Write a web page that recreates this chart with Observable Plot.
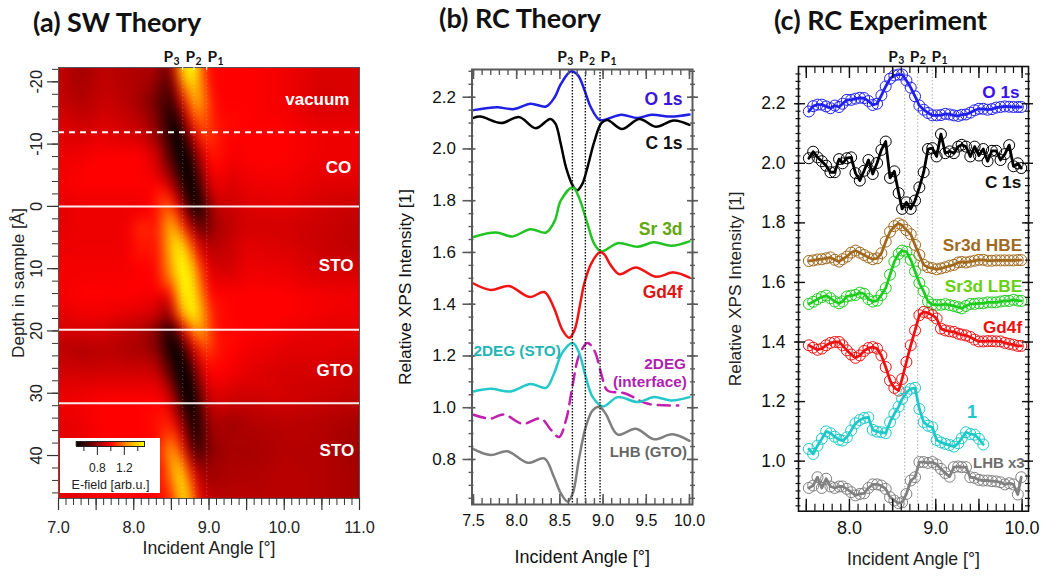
<!DOCTYPE html>
<html><head><meta charset="utf-8">
<script src="https://cdn.jsdelivr.net/npm/d3@7"></script>
<script src="https://cdn.jsdelivr.net/npm/@observablehq/plot@0.6"></script>
<style>
html,body{margin:0;padding:0;background:#fff;width:1042px;height:576px;overflow:hidden}
.t{position:absolute;font-family:Lato,"Open Sans",sans-serif;font-weight:700;font-size:27px;color:#111;white-space:nowrap;line-height:32px}
.p{position:absolute}
.p svg{display:block;overflow:visible;background:transparent}
</style></head><body>
<div class="t" style="left:33px;top:6px">(a) SW Theory</div>
<div class="t" style="left:439px;top:2px">(b) RC Theory</div>
<div class="t" style="left:774px;top:4px">(c) RC Experiment</div>
<div class="p" id="a" style="left:0;top:40px"></div>
<div class="p" id="cb" style="left:60px;top:438px"></div>
<div class="p" id="b" style="left:385px;top:40px"></div>
<div class="p" id="c" style="left:715px;top:40px"></div>
<script>
// ---------- panel (a): E-field, one row per depth
const fieldDepths = [-22.3,-17,-12,-8,-4,0,3,6,10,14,17,20,23,27,31,35,39,43,47];
const fieldAngles = [
 [7,7.3,7.6,7.9,8.1,8.3,8.45,8.55,8.62,8.72,8.85,8.95,9.2,9.5,10,10.5,11],
 [7,7.3,7.6,7.9,8.1,8.3,8.49,8.62,8.75,8.84,8.95,9.1,9.5,10,10.5,11],
 [7,7.3,7.6,7.9,8.1,8.3,8.45,8.58,8.7,8.8,8.9,9,9.15,9.5,10,10.5,11],
 [7,7.3,7.6,7.9,8.1,8.3,8.5,8.67,8.8,8.95,9.1,9.3,9.5,10,10.5,11],
 [7,7.3,7.6,7.9,8.1,8.3,8.5,8.62,8.75,8.88,9,9.15,9.3,9.5,10,10.5,11],
 [7,7.3,7.6,7.9,8.1,8.3,8.45,8.6,8.75,8.85,8.97,9.1,9.3,9.5,10,10.5,11],
 [7,7.3,7.6,7.9,8.1,8.3,8.5,8.62,8.75,8.88,9,9.15,9.3,9.5,10,10.5,11],
 [7,7.3,7.6,7.9,8.1,8.3,8.45,8.56,8.7,8.85,9,9.2,9.5,10,10.5,11],
 [7,7.3,7.6,7.9,8.1,8.3,8.5,8.66,8.8,8.95,9.1,9.3,9.5,10,10.5,11],
 [7,7.3,7.6,7.9,8.1,8.3,8.5,8.6,8.72,8.85,9,9.3,9.5,10,10.5,11],
 [7,7.3,7.6,7.9,8.1,8.3,8.48,8.6,8.77,8.9,9.03,9.3,9.5,10,10.5,11],
 [7,7.3,7.6,7.9,8.1,8.3,8.49,8.62,8.75,8.85,8.97,9.1,9.5,10,10.5,11],
 [7,7.3,7.6,7.9,8.1,8.3,8.48,8.57,8.72,8.85,8.97,9.1,9.5,10,10.5,11],
 [7,7.3,7.6,7.9,8.1,8.3,8.5,8.68,8.82,8.97,9.15,9.5,10,10.5,11],
 [7,7.3,7.6,7.9,8.1,8.3,8.5,8.62,8.76,8.88,9,9.2,9.5,10,10.5,11],
 [7,7.3,7.6,7.9,8.1,8.3,8.48,8.65,8.8,8.92,9.05,9.3,9.5,10,10.5,11],
 [7,7.3,7.6,7.9,8.1,8.3,8.5,8.65,8.78,8.88,9,9.3,9.5,10,10.5,11],
 [7,7.3,7.6,7.9,8.1,8.3,8.45,8.6,8.74,8.88,9,9.3,9.5,10,10.5,11],
 [7,7.3,7.6,7.9,8.1,8.3,8.5,8.69,8.83,8.95,9.3,9.5,10,10.5,11]
];
const fieldValues = [
 [.9,.82,.88,.85,.85,.85,.7,.95,1.35,1.7,1.4,1.02,1,1,.98,.93,.93],
 [.9,.85,.9,.87,.82,.73,.58,.88,1.22,1.38,1.15,1,1,.98,.92,.93],
 [.95,.92,.95,.92,.9,.8,.6,.42,.75,.95,1.14,1.1,1.02,1,1,.97,.97],
 [.97,.98,1,1,1,.93,.65,.4,.68,1,1.04,.98,1,1,.97,.97],
 [.98,1,1,1,1,1,.85,.62,.4,.68,.95,.98,.93,.97,.98,.95,.95],
 [.95,.97,.97,.97,.97,1.03,1.18,.95,.58,.48,.72,.9,.9,.94,.95,.92,.9],
 [.95,.97,.97,.97,1.08,1.02,1.36,1.12,.85,.66,.76,.86,.88,.92,.92,.9,.88],
 [.96,.97,.97,.97,1.05,1.02,1.25,1.5,1.28,.92,.85,.88,.95,.93,.9,.88],
 [.98,.98,.98,.98,1,1,1.28,1.6,1.32,.97,.92,.92,.97,.96,.92,.92],
 [.98,1,1,1,1,.98,1,1.38,1.6,1.32,1,1,1,1,.98,.97],
 [.95,.98,.98,.96,.95,.92,.78,1.22,1.55,1.32,1.04,1,1,1,.98,.97],
 [.92,.93,.92,.88,.85,.76,.5,.82,1.12,1.32,1.18,1.02,1,.98,.95,.95],
 [.88,.85,.87,.85,.84,.78,.55,.42,.76,1,1.14,1.03,.98,.95,.95,.93],
 [.92,.92,.92,.92,.92,.92,.68,.38,.72,1,1,.95,.92,.92,.9],
 [.97,.98,1,1,1,1,.92,.62,.38,.7,.92,.92,.9,.92,.9,.88],
 [.95,.97,1,1,1,1.02,1.08,.82,.46,.7,.85,.82,.85,.87,.86,.83],
 [.95,.95,1,1,1,1.02,1.3,1.05,.66,.62,.78,.84,.83,.86,.86,.82],
 [.95,.95,1,1,1,1,1.12,1.48,1.12,.82,.82,.85,.85,.87,.86,.83],
 [.95,.95,1,1,1,1,1.05,1.52,1.05,.9,.87,.87,.87,.86,.83]
];
const fieldPoints = fieldDepths.flatMap((depth,r)=>fieldAngles[r].map((angle,i)=>({angle,depth,value:fieldValues[r][i]})));
const colorDomain = [0.49,0.75,1.0,1.25,1.5];
const colorRange = ["#000000","#7a0000","#ff0000","#ff9500","#ffff00"];
const layerSolid = [0,19.8,31.6];
const layerDashed = [-11.9];
const peakAngles = [8.65,8.8,8.97];
const layerNames = ["vacuum","CO","STO","GTO","STO"];
const layerNameAngle = [10.44,10.72,10.69,10.67,10.7];
const layerNameDepth = [-17.2,-6.3,9.5,26.3,39.2];
const pNames = ["P","P","P"], pSubs = ["3","2","1"];
const pStartA = [8.395,8.688,8.98], pStartB = [8.47,8.72,8.97], pStartC = [8.45,8.70,8.95];

// ---------- panel (b): theory curves
const bO1s = [[7.5,2.15],[7.7,2.159],[7.78,2.161],[7.97,2.154],[8.16,2.175],[8.34,2.164],[8.44,2.2],[8.51,2.25],[8.63,2.3],[8.71,2.284],[8.78,2.232],[8.86,2.16],[8.96,2.112],[9.05,2.116],[9.21,2.132],[9.4,2.12],[9.56,2.132],[9.79,2.125],[10,2.133]];
const bC1s = [[7.5,2.12],[7.58,2.125],[7.82,2.1],[8.03,2.123],[8.22,2.08],[8.39,2.116],[8.45,2.097],[8.51,2.02],[8.57,1.93],[8.65,1.858],[8.7,1.84],[8.76,1.865],[8.82,1.93],[8.9,2.03],[8.98,2.1],[9.05,2.112],[9.22,2.077],[9.42,2.116],[9.61,2.086],[9.82,2.11],[10,2.093]];
const bSr3d = [[7.5,1.66],[7.76,1.677],[7.95,1.662],[8.16,1.69],[8.34,1.677],[8.44,1.722],[8.51,1.8],[8.65,1.852],[8.72,1.813],[8.82,1.71],[8.9,1.632],[8.98,1.604],[9.17,1.636],[9.4,1.622],[9.59,1.639],[9.79,1.626],[10,1.643]];
const bGd4f = [[7.5,1.48],[7.7,1.455],[7.91,1.47],[8.15,1.428],[8.32,1.447],[8.43,1.387],[8.53,1.3],[8.61,1.27],[8.67,1.3],[8.74,1.41],[8.78,1.477],[8.86,1.555],[8.96,1.6],[9.01,1.594],[9.09,1.55],[9.19,1.516],[9.38,1.542],[9.61,1.506],[9.82,1.523],[10,1.503]];
const b2degSto = [[7.5,1.063],[7.7,1.073],[7.93,1.063],[8.16,1.092],[8.34,1.077],[8.43,1.13],[8.53,1.214],[8.65,1.25],[8.72,1.214],[8.8,1.118],[8.88,1.041],[9,1.005],[9.17,1.041],[9.4,1.022],[9.59,1.041],[9.79,1.028],[10,1.041]];
const b2degInt = [[7.5,.973],[7.7,.958],[7.85,.974],[8.07,.938],[8.28,.958],[8.4,.913],[8.49,.887],[8.57,.951],[8.65,1.092],[8.72,1.2],[8.82,1.25],[8.9,1.22],[8.98,1.13],[9.05,1.067],[9.25,1.056],[9.52,1.015],[9.87,1.009]];
const bLhb = [[7.5,.84],[7.7,.817],[7.89,.832],[8.13,.787],[8.32,.804],[8.43,.733],[8.51,.67],[8.59,.637],[8.65,.67],[8.72,.8],[8.8,.926],[8.88,.99],[8.96,1.003],[9.03,.977],[9.17,.896],[9.38,.919],[9.59,.878],[9.8,.897],[10,.872]];
const bLabels = ["O 1s","C 1s","Sr 3d","Gd4f"];
const bLabelY = [2.19,2.02,1.69,1.445];
const bLabelColor = ["#3a14d8","#111111","#62a80e","#e01414"];

// ---------- panel (c): experiment
const cAngle = [7.53,7.58,7.63,7.68,7.73,7.78,7.83,7.88,7.92,7.97,8.02,8.07,8.12,8.17,8.22,8.27,8.32,8.37,8.42,8.47,8.52,8.57,8.61,8.66,8.71,8.76,8.81,8.86,8.91,8.96,9.01,9.06,9.11,9.16,9.21,9.26,9.30,9.35,9.40,9.45,9.50,9.55,9.60,9.65,9.70,9.75,9.80,9.85,9.90,9.95,9.99];
const cO1s = [2.174,2.192,2.197,2.197,2.191,2.185,2.194,2.189,2.2,2.213,2.213,2.217,2.22,2.219,2.209,2.196,2.2,2.228,2.258,2.284,2.295,2.298,2.298,2.278,2.254,2.225,2.194,2.18,2.169,2.161,2.161,2.162,2.166,2.164,2.161,2.159,2.163,2.164,2.17,2.178,2.183,2.183,2.18,2.182,2.187,2.189,2.191,2.19,2.189,2.189,2.189];
const cC1s = [2.017,2.039,2.02,2.007,1.992,1.97,1.97,2.014,2,2.017,2.02,1.967,1.942,1.975,2.011,1.964,2.001,2.045,2.073,1.951,1.973,1.9,1.847,1.869,1.847,1.875,1.919,1.97,2.048,2.051,2.023,2.098,2.034,2.04,2.034,2.056,2.062,2.056,2.023,2.056,2.026,2.048,2.007,2.042,2.042,2.011,2.031,2.061,1.99,2,1.984];
const cHbe = [1.672,1.674,1.677,1.678,1.681,1.684,1.676,1.67,1.678,1.687,1.7,1.707,1.7,1.692,1.684,1.678,1.681,1.698,1.737,1.77,1.789,1.798,1.792,1.776,1.762,1.726,1.692,1.659,1.651,1.648,1.644,1.647,1.651,1.656,1.659,1.667,1.669,1.667,1.67,1.673,1.676,1.676,1.673,1.673,1.674,1.674,1.674,1.674,1.674,1.675,1.675];
const cLbe = [1.528,1.535,1.544,1.551,1.556,1.547,1.536,1.53,1.536,1.553,1.556,1.558,1.566,1.562,1.544,1.536,1.539,1.558,1.581,1.626,1.67,1.696,1.707,1.703,1.676,1.637,1.598,1.57,1.536,1.526,1.525,1.525,1.527,1.524,1.521,1.517,1.513,1.521,1.528,1.528,1.53,1.53,1.533,1.533,1.533,1.536,1.538,1.538,1.542,1.539,1.538];
const cGd4f = [1.389,1.381,1.374,1.378,1.389,1.397,1.4,1.4,1.389,1.372,1.358,1.347,1.355,1.37,1.38,1.383,1.378,1.355,1.316,1.271,1.246,1.237,1.276,1.333,1.389,1.439,1.49,1.501,1.498,1.49,1.479,1.445,1.439,1.436,1.434,1.428,1.425,1.422,1.417,1.408,1.402,1.402,1.403,1.403,1.402,1.402,1.397,1.394,1.391,1.387,1.387];
const cOne = [1.041,1.024,1.052,1.075,1.1,1.094,1.082,1.072,1.069,1.08,1.103,1.127,1.138,1.145,1.147,1.105,1.099,1.097,1.094,1.131,1.159,1.183,1.209,1.231,1.243,1.246,1.175,1.131,1.119,1.114,1.071,1.063,1.058,1.054,1.049,1.06,1.077,1.097,1.091,1.089,1.075,1.056];
const cLhb = [.91,.918,.946,.91,.941,.915,.91,.915,.915,.907,.896,.885,.89,.892,.91,.922,.922,.918,.907,.879,.868,.859,.862,.89,.935,.946,.997,.997,.994,.997,.989,.974,.96,.948,.98,.982,.98,.98,.946,.944,.937,.935,.935,.933,.932,.929,.922,.926,.922,.888,.946];
const cLabels = ["O 1s","C 1s","Sr3d HBE","Sr3d LBE","Gd4f"];
const cLabelX = [9.97,9.99,10,10,10];
const cLabelY = [2.237,1.935,1.724,1.586,1.45];
const cLabelColor = ["#3a10f0","#111111","#a0691e","#66d011","#ee1111"];

// ---------- ticks
const majorA = [7,7.5,8,8.5,9,9.5,10,10.5,11];
const minorA = d3.range(7,11.001,0.1);
const labelA = [7,8,9,10,11];
const depthLabels = [-20,-10,0,10,20,30,40];
const depthMinor = d3.range(-22,47,2);
const majorX = [7.5,8,8.5,9,9.5,10];
const minorX = d3.range(7.5,10.001,0.1);
const labelB = [7.5,8,8.5,9,9.5,10];
const labelC = [8,9,10];
const majorYB = [.8,1,1.2,1.4,1.6,1.8,2,2.2];
const minorYB = d3.range(.65,2.301,.05);
const majorYC = [1,1.2,1.4,1.6,1.8,2,2.2];
const minorYC = d3.range(.85,2.32,.025);
const SANS = '"Liberation Sans",Arial,sans-serif';
const fx = d3.format(".1f");
const colorScale = {type:"linear",domain:colorDomain,range:colorRange,interpolate:"rgb",clamp:true};

// tick strokes drawn as short rules on the panel's own scales (W, H: frame size in px)
const tickBottom = (H,ticks,size,stroke,sw,outward=false)=>Plot.ruleX(ticks,{insetTop:H-size,dy:outward?size:0,stroke,strokeWidth:sw});
const tickTop = (H,ticks,size,stroke,sw)=>Plot.ruleX(ticks,{insetBottom:H-size,stroke,strokeWidth:sw});
const tickLeft = (W,ticks,size,shift,stroke,sw)=>Plot.ruleY(ticks,{insetRight:W-size,dx:shift-size,stroke,strokeWidth:sw});
const tickRight = (W,ticks,size,shift,stroke,sw)=>Plot.ruleY(ticks,{insetLeft:W-size,dx:size-shift,stroke,strokeWidth:sw});

function pLabels(starts,dyTop){
  return [
    Plot.text(pNames,{x:(d,i)=>starts[i],frameAnchor:"top",dy:dyTop,textAnchor:"start",lineAnchor:"middle",text:d=>d,fontFamily:"Lato",fontWeight:700,fontSize:15.5,fill:"#111"}),
    Plot.text(pSubs,{x:(d,i)=>starts[i],frameAnchor:"top",dy:dyTop+4,dx:10,textAnchor:"start",lineAnchor:"middle",text:d=>d,fontFamily:"Lato",fontWeight:700,fontSize:10.5,fill:"#111"})
  ];
}

// ---------- panel (a)
const WA=301,HA=431;
document.getElementById("a").append(Plot.plot({
  width:375,height:536,marginLeft:58,marginRight:16,marginTop:27,marginBottom:78,
  style:{fontFamily:SANS,background:"transparent",overflow:"visible"},
  x:{domain:[7,11],label:null},y:{domain:[46.9,-22.3],label:null},color:colorScale,
  marks:[
    Plot.raster(fieldPoints,{x:"angle",y:"depth",fill:"value",interpolate:"barycentric",pixelSize:1,blur:5}),
    Plot.ruleX(peakAngles,{stroke:"#fff",strokeOpacity:.28,strokeWidth:1,strokeDasharray:"1,3"}),
    Plot.ruleY(layerSolid,{stroke:"#fff",strokeWidth:2,strokeOpacity:.92}),
    Plot.ruleY(layerDashed,{stroke:"#fff",strokeWidth:2,strokeDasharray:"6,5"}),
    Plot.text(layerNames,{x:(d,i)=>layerNameAngle[i],y:(d,i)=>layerNameDepth[i],text:d=>d,fill:"#fff",fontWeight:700,fontSize:17,fontFamily:SANS}),
    Plot.frame({stroke:"#555",strokeWidth:1}),
    tickBottom(HA,minorA,7,"#333",1,true),
    tickBottom(HA,majorA,12,"#333",1.2,true),
    Plot.axisX({anchor:"bottom",ticks:labelA,tickSize:0,tickPadding:23,tickFormat:fx,fontSize:16.3,fill:"#222",label:null}),
    tickLeft(WA,depthMinor,6,0,"#333",1),
    tickLeft(WA,depthLabels,11,0,"#333",1.2),
    Plot.axisY({anchor:"left",ticks:depthLabels,tickSize:0,tickPadding:17,tickRotate:-90,fontSize:16.3,fill:"#222",label:null,tickFormat:d=>String(d).replace("−","-")}),
    tickTop(HA,peakAngles,3,"#fff",1),
    ...pLabels(pStartA,-10),
    Plot.text(["Depth in sample [Å]"],{frameAnchor:"left",dx:-40,rotate:-90,textAnchor:"middle",fontSize:17.2,fill:"#222",text:d=>d}),
    Plot.text(["Incident Angle [°]"],{frameAnchor:"bottom",dy:55,fontSize:17.7,fill:"#222",text:d=>d})
  ]
}));

// colour bar inset
const barValues = d3.range(0.49,1.5,0.01);
document.getElementById("cb").append(Plot.plot({
  width:100,height:55,marginLeft:16,marginRight:16,marginTop:3,marginBottom:47,
  style:{fontFamily:SANS,background:"#fff",overflow:"visible"},
  x:{domain:[0.49,1.5],label:null},y:{axis:null},color:colorScale,
  marks:[
    Plot.ruleX(barValues,{x:d=>d,stroke:d=>d,strokeWidth:1.5}),
    Plot.frame({stroke:"#222"}),
    tickBottom(5,[.6,1,1.4],5,"#222",1,true),
    tickBottom(5,[.8,1.2],9,"#222",1,true),
    Plot.axisX({anchor:"bottom",ticks:[.8,1.2],tickSize:0,tickPadding:17,tickFormat:fx,fontSize:12,fill:"#222",label:null}),
    Plot.text(["E-field [arb.u.]"],{frameAnchor:"bottom",dy:42,fontSize:12.5,fill:"#222",text:d=>d})
  ]
}));

// ---------- panel (b)
function curveB(pts,stroke,extra={}){
  return Plot.line(pts,{x:d=>d[0],y:d=>d[1],stroke,strokeWidth:2.5,curve:"catmull-rom",...extra});
}
const GB = "#5a5a5a", WB=220.5, HB=435;
document.getElementById("b").append(Plot.plot({
  width:325,height:536,marginLeft:86.5,marginRight:18,marginTop:29,marginBottom:72,
  style:{fontFamily:SANS,background:"transparent",overflow:"visible"},
  x:{domain:[7.483,10.035],label:null},y:{domain:[.626,2.307],label:null},
  marks:[
    curveB(bO1s,"#1f1fe6"),curveB(bC1s,"#000"),curveB(bSr3d,"#22c322"),curveB(bGd4f,"#f01414"),
    curveB(b2degInt,"#c01fb0",{strokeDasharray:"12,7"}),curveB(b2degSto,"#25c8c8"),curveB(bLhb,"#7f7f7f"),
    Plot.ruleX(peakAngles.map(d=>d-.005),{stroke:"#111",strokeWidth:1.4,strokeDasharray:"1.5,1.5"}),
    Plot.frame({stroke:GB,strokeWidth:2}),
    tickBottom(HB,minorX,6,GB,1.4),tickBottom(HB,majorX,10,GB,1.6),
    tickTop(HB,minorX,6,GB,1.4),tickTop(HB,majorX,10,GB,1.6),
    tickLeft(WB,minorYB,5,2,GB,1.4),tickLeft(WB,majorYB,13,4,GB,1.6),
    tickRight(WB,minorYB,5,2,GB,1.4),tickRight(WB,majorYB,11,5,GB,1.6),
    Plot.axisX({anchor:"bottom",ticks:labelB,tickSize:0,tickPadding:10,tickFormat:fx,fontSize:16,fill:"#111",label:null}),
    Plot.axisY({anchor:"left",ticks:majorYB,tickSize:0,tickPadding:16,tickFormat:fx,fontSize:17,fill:"#111",label:null}),
    Plot.text(bLabels,{x:9.92,y:(d,i)=>bLabelY[i],text:d=>d,textAnchor:"end",fill:(d,i)=>bLabelColor[i],fontWeight:700,fontSize:17.5,fontFamily:SANS}),
    Plot.text(["2DEG (STO)"],{x:7.5,y:1.218,text:d=>d,textAnchor:"start",fill:"#1fb5b5",fontWeight:700,fontSize:15.3,fontFamily:SANS}),
    Plot.text(["2DEG"],{x:9.96,y:1.17,text:d=>d,textAnchor:"end",fill:"#b01fb0",fontWeight:700,fontSize:15.3,fontFamily:SANS}),
    Plot.text(["(interface)"],{x:9.97,y:1.10,text:d=>d,textAnchor:"end",fill:"#b01fb0",fontWeight:700,fontSize:15.3,fontFamily:SANS}),
    Plot.text(["LHB (GTO)"],{x:9.97,y:.827,text:d=>d,textAnchor:"end",fill:"#666",fontWeight:700,fontSize:15,fontFamily:SANS}),
    ...pLabels(pStartB,-12),
    Plot.text(["Relative XPS Intensity [1]"],{frameAnchor:"left",dx:-67,rotate:-90,textAnchor:"middle",fontSize:17.4,fill:"#111",text:d=>d}),
    Plot.text(["Incident Angle [°]"],{frameAnchor:"bottom",dy:58,fontSize:18,fill:"#111",text:d=>d})
  ]
}));

// ---------- panel (c)
function seriesC(vals,color){
  const pts = vals.map((v,i)=>[cAngle[i],v]);
  return [
    Plot.dot(pts,{x:d=>d[0],y:d=>d[1],r:5.5,stroke:color,strokeWidth:1,fill:"none"}),
    Plot.line(pts,{x:d=>d[0],y:d=>d[1],stroke:color,strokeWidth:2.8})
  ];
}
const WC=230,HC=444.7;
document.getElementById("c").append(Plot.plot({
  width:327,height:536,marginLeft:83,marginRight:14,marginTop:26,marginBottom:65.3,
  style:{fontFamily:SANS,background:"transparent",overflow:"visible"},
  x:{domain:[7.41,10.074],label:null},y:{domain:[.832,2.325],label:null},
  marks:[
    Plot.ruleX(peakAngles.map(d=>d-.01),{stroke:"#bbb",strokeWidth:1.2,strokeDasharray:"1.5,2"}),
    ...seriesC(cO1s,"#1f1ff0"),...seriesC(cC1s,"#000"),...seriesC(cHbe,"#a0691e"),...seriesC(cLbe,"#1ecc1e"),
    ...seriesC(cGd4f,"#ee1111"),...seriesC(cOne,"#1fc8c8"),...seriesC(cLhb,"#808080"),
    Plot.frame({stroke:"#111",strokeWidth:1.6}),
    tickBottom(HC,minorX,7,"#111",1.2),tickBottom(HC,majorX,12,"#111",1.4),
    tickTop(HC,minorX,7,"#111",1.2),tickTop(HC,majorX,12,"#111",1.4),
    tickLeft(WC,minorYC,5,2.5,"#111",1.2),tickLeft(WC,majorYC,11,7,"#111",1.4),
    tickRight(WC,minorYC,5,3,"#111",1.2),tickRight(WC,majorYC,11,6,"#111",1.4),
    Plot.axisX({anchor:"bottom",ticks:labelC,tickSize:0,tickPadding:10,tickFormat:fx,fontSize:18,fill:"#111",label:null}),
    Plot.axisY({anchor:"left",ticks:majorYC,tickSize:0,tickPadding:13,tickFormat:fx,fontSize:17.5,fill:"#111",label:null}),
    Plot.text(cLabels,{x:(d,i)=>cLabelX[i],y:(d,i)=>cLabelY[i],text:d=>d,textAnchor:"end",fill:(d,i)=>cLabelColor[i],fontWeight:700,fontSize:17.2,fontFamily:SANS}),
    Plot.text(["1"],{x:9.42,y:1.164,text:d=>d,fill:"#1fc8c8",fontWeight:700,fontSize:18,fontFamily:SANS}),
    Plot.text(["LHB x3"],{x:10.03,y:.993,text:d=>d,textAnchor:"end",fill:"#6e6e6e",fontWeight:700,fontSize:15,fontFamily:SANS}),
    ...pLabels(pStartC,-9.5),
    Plot.text(["Relative XPS Intensity [1]"],{frameAnchor:"left",dx:-63,rotate:-90,textAnchor:"middle",fontSize:17.3,fill:"#222",text:d=>d}),
    Plot.text(["Incident Angle [°]"],{frameAnchor:"bottom",dy:54,fontSize:17.7,fill:"#222",text:d=>d})
  ]
}));
</script>
</body></html>
